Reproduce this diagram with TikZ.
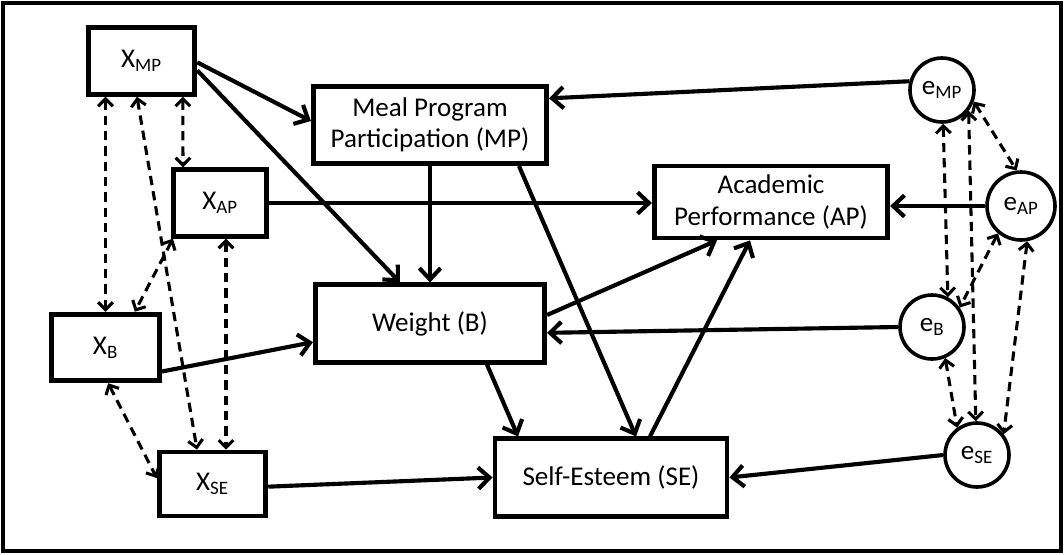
\documentclass[tikz,border=0pt]{standalone}
\usepackage{fontspec}
\setmainfont{Carlito}
\usepackage{tikz}
\usetikzlibrary{arrows.meta}
\usetikzlibrary{positioning}

\begin{document}
\begin{tikzpicture}[x=0.75pt, y=-0.75pt,
  every node/.style={font=\fontsize{20.3}{23.5}\selectfont},
  varbox/.style={draw, line width=3.6pt, align=center, inner sep=0pt},
  errnode/.style={draw, circle, line width=2.7pt, inner sep=0pt, minimum size=48pt},
  regpath/.style={line width=3.1pt, -{Straight Barb[length=8.5pt,width=16pt]}},
  cov/.style={line width=2.3pt, dash pattern=on 7pt off 4.5pt,
    {Straight Barb[length=5.5pt,width=11pt]}-{Straight Barb[length=5.5pt,width=11pt]}}]

\useasboundingbox (0,0) rectangle (1064,554);
\draw [line width=3pt] (3,3) rectangle (1061,551);

% exogenous variables
\node[varbox, minimum width=80pt, minimum height=50pt] (Xmp) at (141.5,61) {X\textsubscript{MP}};
\node[varbox, minimum width=70pt, minimum height=50pt] (Xap) at (220,203) {X\textsubscript{AP}};
\node[varbox, minimum width=81pt, minimum height=50pt] (Xb) at (105.5,347.5) {X\textsubscript{B}};
\node[varbox, minimum width=80pt, minimum height=48pt] (Xse) at (212.5,484) {X\textsubscript{SE}};

% outcomes
\node[varbox, minimum width=175pt, minimum height=58pt] (MP) at (430,125) {Meal Program\\Participation (MP)};
\node[varbox, minimum width=175pt, minimum height=54pt] (AP) at (771,202) {Academic\\Performance (AP)};
\node[varbox, minimum width=172pt, minimum height=58pt] (W) at (430,323.5) {Weight (B)};
\node[varbox, minimum width=174pt, minimum height=58pt] (SE) at (611,477.5) {Self-Esteem (SE)};

% errors
\node[errnode] (emp) at (942,90) {e\textsubscript{MP}};
\node[errnode, minimum size=51pt] (eap) at (1021,206) {e\textsubscript{AP}};
\node[errnode] (eb) at (932,327) {e\textsubscript{B}};
\node[errnode] (ese) at (977,455) {e\textsubscript{SE}};

% structural paths
\draw [regpath] ([yshift=-1pt]Xmp.east) -- ([yshift=3pt]MP.west);
\draw [regpath] ([yshift=-7pt]Xmp.east) -- ([xshift=-22.5pt]W.north);
\draw [regpath] (Xap.east) -- (Xap.east -| AP.west);
\draw [regpath] ([yshift=-18pt]Xb.east) -- ([yshift=-14pt]W.west);
\draw [regpath] ([yshift=-2pt]Xse.east) -- (SE.west);
\draw [regpath] (MP.south) -- (W.north);
\draw [regpath] ([xshift=66.75pt]MP.south) -- ([xshift=18.75pt]SE.north);
\draw [regpath] ([yshift=6.4pt]W.east) -- ([xshift=-40.5pt]AP.south);
\draw [regpath] ([xshift=42.75pt]W.south) -- ([xshift=-69.75pt]SE.north);
\draw [regpath] ([xshift=29.25pt]SE.north) -- ([xshift=-15.75pt]AP.south);

\draw [regpath] (emp.165) -- ([yshift=20pt]MP.east);
\draw [regpath] (eap.west) -- (eap.west -| AP.east);
\draw [regpath] (eb.west) -- ([yshift=-7pt]W.east);
\draw [regpath] (ese.west) -- (SE.east);

% covariances among X
\draw [cov] (Xmp.south -| Xb.north) -- (Xb.north);
\draw [cov] ([xshift=-3.4pt]Xmp.south) -- ([xshift=-11.6pt]Xse.north);
\draw [cov] ([xshift=31pt]Xmp.south) -- ([xshift=-27.75pt]Xap.north);
\draw [cov] ([xshift=1.5pt]Xap.south west) -- ([xshift=22pt]Xb.north);
\draw [cov] ([xshift=4.5pt]Xap.south) -- ([xshift=4.5pt]Xap.south |- Xse.north);
\draw [cov] ([xshift=2pt]Xb.south) -- ([yshift=4.5pt]Xse.west);

% covariances among errors
\draw [cov] (emp.272) -- (eb.62);
\draw [cov] (emp.322) -- (ese.92);
\draw [cov] (emp.340) -- (eap.97);
\draw [cov] (eap.230) -- (eb.35);
\draw [cov] (eap.280) -- (ese.38);
\draw [cov] (eb.293) -- (ese.126);

\end{tikzpicture}
\end{document}
